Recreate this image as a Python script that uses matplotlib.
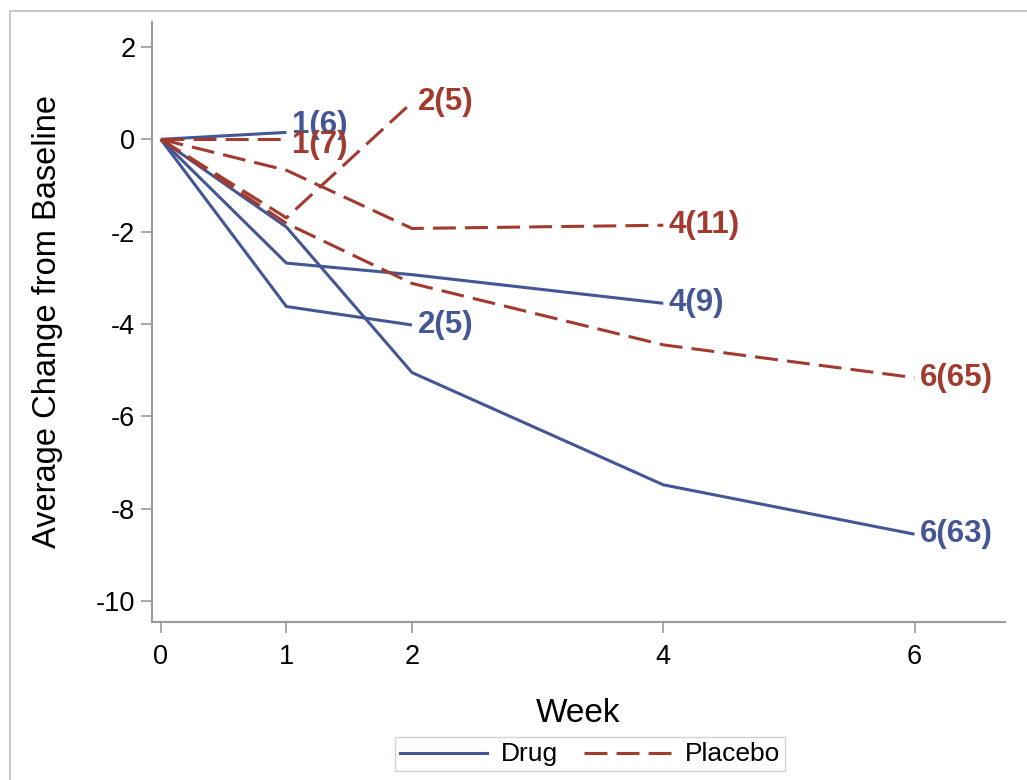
import matplotlib
matplotlib.use("Agg")
import matplotlib.pyplot as plt
from matplotlib.lines import Line2D
from matplotlib.patches import Rectangle

plt.rcParams['font.family'] = ['Liberation Sans', 'DejaVu Sans']
plt.rcParams['axes.unicode_minus'] = False

# Drug cohorts (by last week attended): weeks, mean change, n
drug_weeks = [[0, 1], [0, 1, 2], [0, 1, 2, 4], [0, 1, 2, 4, 6]]
drug_values = [[0, 0.15], [0, -3.62, -4.02], [0, -2.68, -2.93, -3.55],
               [0, -1.90, -5.05, -7.48, -8.55]]
drug_n = [6, 5, 9, 63]

# Placebo cohorts
placebo_weeks = [[0, 1], [0, 1, 2], [0, 1, 2, 4], [0, 1, 2, 4, 6]]
placebo_values = [[0, 0.0], [0, -1.70, 0.80], [0, -0.67, -1.93, -1.86],
                  [0, -1.82, -3.12, -4.45, -5.16]]
placebo_n = [7, 5, 11, 65]

x_ticks = [0, 1, 2, 4, 6]
y_ticks = [-10, -8, -6, -4, -2, 0, 2]

blue = '#445694'
red = '#A23A2E'
gray = '#9a9a9a'

# label vertical nudges (points) to mimic collision avoidance
drug_dy = [5, 0, 0, 0]
placebo_dy = [-4, 0, 0, 0]

fig = plt.figure(figsize=(10.27, 7.8), dpi=100)
# outer border
fig.patches.append(Rectangle((10 / 1027, -0.05), 1.2, (780 - 11) / 780 + 0.05,
                             transform=fig.transFigure, fill=False,
                             edgecolor='#c8c8c8', linewidth=1.5))
ax = fig.add_axes([152 / 1027, (780 - 622) / 780, (1005 - 152) / 1027, (622 - 22) / 780])

dash = (0, (7.5, 3))
lw = 2.2
for wk, vals, n, dy in zip(drug_weeks, drug_values, drug_n, drug_dy):
    ax.plot(wk, vals, color=blue, lw=lw, solid_capstyle='butt')
    ax.annotate(f"{wk[-1]}({n})", (wk[-1], vals[-1]), xytext=(4, dy),
                textcoords='offset points', va='center', ha='left',
                color=blue, fontsize=22.5, fontweight='bold')
for wk, vals, n, dy in zip(placebo_weeks, placebo_values, placebo_n, placebo_dy):
    ax.plot(wk, vals, color=red, lw=lw, linestyle=dash)
    ax.annotate(f"{wk[-1]}({n})", (wk[-1], vals[-1]), xytext=(4, dy),
                textcoords='offset points', va='center', ha='left',
                color=red, fontsize=22.5, fontweight='bold')

ax.set_xlim(-0.07, 6.72)
ax.set_ylim(-10.45, 2.54)
ax.set_xticks(x_ticks)
ax.set_yticks(y_ticks)
ax.tick_params(axis='both', labelsize=19.5, color=gray, length=8, width=1.2,
               direction='out')
ax.tick_params(axis='y', pad=4)
ax.tick_params(axis='x', pad=8)
for s in ['top', 'right']:
    ax.spines[s].set_visible(False)
for s in ['left', 'bottom']:
    ax.spines[s].set_color(gray)
    ax.spines[s].set_linewidth(1.5)

ax.set_xlabel('Week', fontsize=24, labelpad=20)
ax.set_ylabel('Average Change from Baseline', fontsize=23.5, labelpad=24)

handles = [Line2D([], [], color=blue, lw=lw),
           Line2D([], [], color=red, lw=lw, linestyle=dash)]
leg = fig.legend(handles, ['Drug', 'Placebo'], loc='center',
                 bbox_to_anchor=(590 / 1027, 1 - 754 / 780), ncol=2,
                 fontsize=19, frameon=True, fancybox=False, handlelength=3.3,
                 handleheight=0.5, columnspacing=1.0, handletextpad=0.5,
                 borderpad=0.2)
leg.get_frame().set_edgecolor('#c8c8c8')
leg.get_frame().set_linewidth(1.0)

fig.savefig('out.png', dpi=100)
